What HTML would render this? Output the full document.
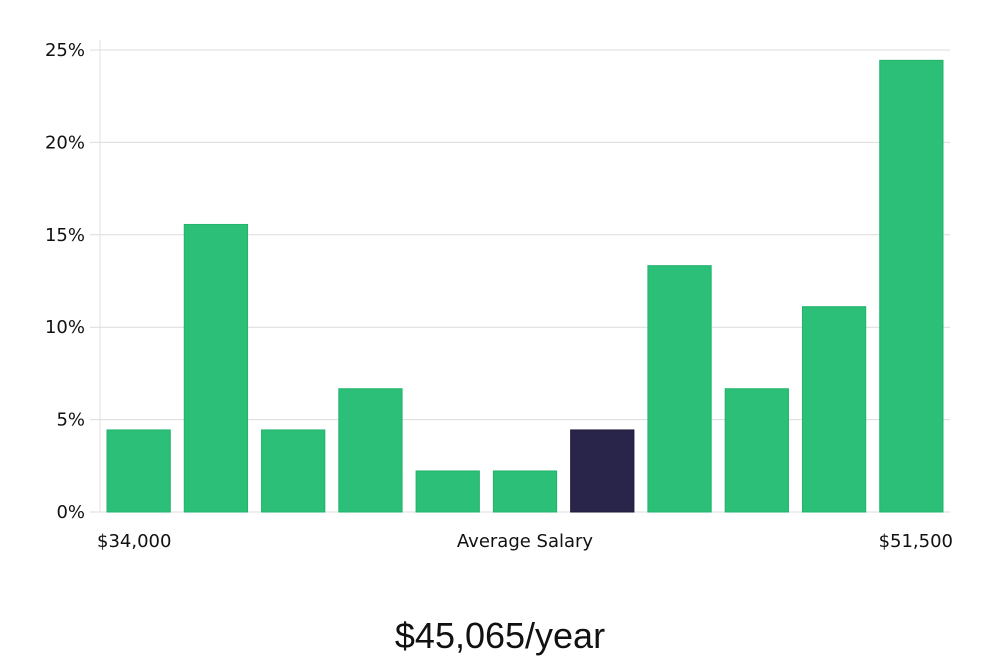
<!DOCTYPE html>
<html><head><meta charset="utf-8"><style>
body{margin:0;background:#fff;font-family:"Liberation Sans","DejaVu Sans",sans-serif;}
svg text{font-family:"DejaVu Sans","Liberation Sans",sans-serif;}
</style></head><body>
<svg id="chart" width="1000" height="660" viewBox="0 0 1000 660" xmlns="http://www.w3.org/2000/svg">
<g id="grid"></g>
<g id="bars"></g>
<g id="yticks"></g>
<line x1="100" y1="40" x2="100" y2="512" stroke="#e0e0e0"/>
<text x="97" y="547" font-size="18" fill="#111">$34,000</text>
<text x="525" y="547" font-size="18" fill="#111" text-anchor="middle">Average Salary</text>
<text x="953" y="547" font-size="18" fill="#111" text-anchor="end">$51,500</text>
<text x="500" y="648" font-size="36" fill="#111" text-anchor="middle" style="font-family:'Liberation Sans Narrow','Liberation Sans',sans-serif">$45,065/year</text>
</svg>
<script>
const values=[4.44,15.56,4.44,6.67,2.22,2.22,4.44,13.33,6.67,11.11,24.44];
const highlight=[false,false,false,false,false,false,true,false,false,false,false];
const yTicks=[0,5,10,15,20,25];
const yTickLabels=["0%","5%","10%","15%","20%","25%"];
const NS="http://www.w3.org/2000/svg";
const x0=100,x1=950,yBase=512,yTop=50,yMax=25;
const y=v=>yBase-(v/yMax)*(yBase-yTop);
const band=(x1-x0)/values.length;
const g=document.getElementById('grid'),b=document.getElementById('bars'),t=document.getElementById('yticks');
yTicks.forEach((v,i)=>{
 const l=document.createElementNS(NS,'line');
 
 
 l.setAttribute('x1',90);l.setAttribute('x2',x1);l.setAttribute('y1',y(v));l.setAttribute('y2',y(v));
 l.setAttribute('stroke','#dcdcdc');g.appendChild(l);
 const tx=document.createElementNS(NS,'text');
 
 
 tx.setAttribute('x',85);tx.setAttribute('y',y(v)+6);tx.setAttribute('text-anchor','end');
 tx.setAttribute('font-size','18');tx.setAttribute('fill','#111');tx.textContent=yTickLabels[i];t.appendChild(tx);
});
values.forEach((v,i)=>{
 const r=document.createElementNS(NS,'rect');
 
 
 r.setAttribute('x',x0+i*band+7);r.setAttribute('width',band-14);
 r.setAttribute('y',y(v));r.setAttribute('height',yBase-y(v));
 r.setAttribute('fill',highlight[i]?'#29254a':'#2bbf77');
 r.setAttribute('stroke',highlight[i]?'#1d1a3a':'#22b36c');
 b.appendChild(r);
});
</script>
</body></html>
